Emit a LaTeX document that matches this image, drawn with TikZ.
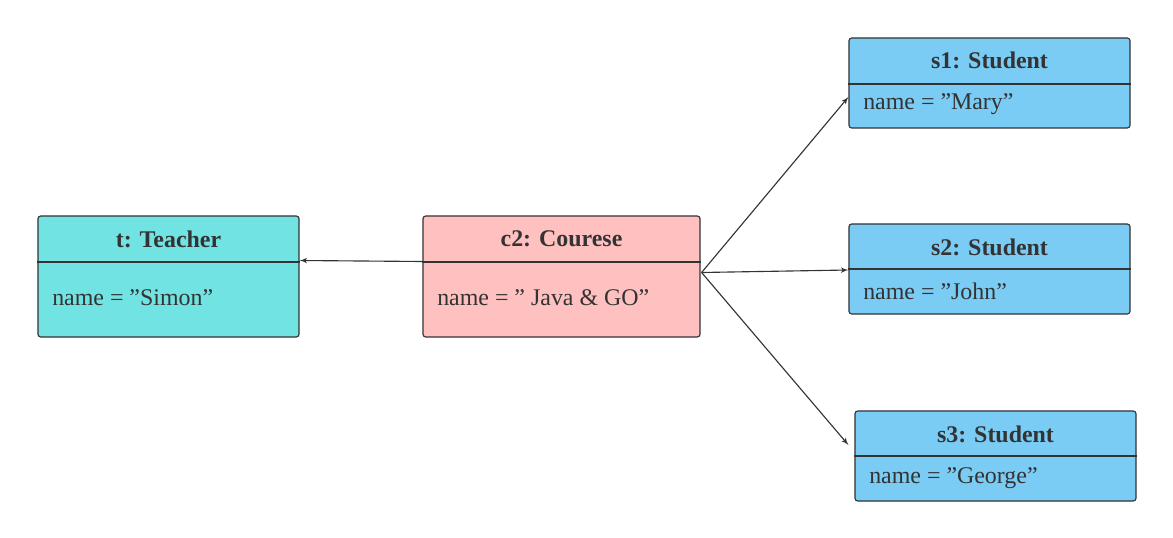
\documentclass[tikz,border=0pt]{standalone}
\usepackage{fontspec}
\setmainfont{Liberation Serif}
\usetikzlibrary{arrows,positioning,calc}
\definecolor{teachercol}{HTML}{72E3E3}
\definecolor{coursecol}{HTML}{FFC0C0}
\definecolor{studentcol}{HTML}{7ACCF5}
\definecolor{linecol}{HTML}{333333}
\begin{document}
\begin{tikzpicture}[x=0.025cm, y=-0.025cm,
            every node/.style={inner sep=0pt, text=linecol},
            objbox/.style={draw=linecol, thick, rounded corners=2pt},
            title/.style={font=\fontsize{17}{20}\selectfont\bfseries},
            field/.style={font=\fontsize{17}{20}\selectfont, anchor=west},
            divider/.style={thick, draw=linecol},
            link/.style={-latex', thick, draw=linecol}]
        \useasboundingbox (0,0) rectangle (1173,538);
        % objects
        \node[objbox, fill=teachercol, minimum width=6.525cm, minimum height=3.025cm] (t) at (168.5,276.5) {};
        \node[objbox, fill=coursecol, minimum width=6.925cm, minimum height=3.025cm] (c2) at (561.5,276.5) {};
        \node[objbox, fill=studentcol, minimum width=7.025cm, minimum height=2.25cm] (s1) at (989.5,83) {};
        \node[objbox, fill=studentcol, minimum width=7.025cm, minimum height=2.25cm] (s2) at (989.5,269) {};
        \node[objbox, fill=studentcol, minimum width=7.025cm, minimum height=2.25cm] (s3) at (995.5,456) {};
        % dividers
        \draw[divider] (t.north west |- 0,262) -- (t.north east |- 0,262);
        \draw[divider] (c2.north west |- 0,262) -- (c2.north east |- 0,262);
        \draw[divider] (s1.north west |- 0,84) -- (s1.north east |- 0,84);
        \draw[divider] (s2.north west |- 0,269) -- (s2.north east |- 0,269);
        \draw[divider] (s3.north west |- 0,456) -- (s3.north east |- 0,456);
        % texts
        \node[title] at (168.5,239) {t: Teacher};
        \node[field] at (52,298) {name = "Simon"};
        \node[title] at (561.5,239) {c2: Courese};
        \node[field] at (437,298) {name = " Java \& GO"};
        \node[title] at (989.5,60) {s1: Student};
        \node[field] at (863,104) {name = "Mary"};
        \node[title] at (989.5,247) {s2: Student};
        \node[field] at (863,291) {name = "John"};
        \node[title] at (995.5,434) {s3: Student};
        \node[field] at (869,478) {name = "George"};
        % links
        \coordinate (c2out) at ($(c2.east)+(1,-4)$);
        \draw[link] ($(c2.west)+(0,-15)$) -- ($(t.east)+(0,-16)$);
        \draw[link] (c2out) -- ($(s1.west)+(0,14)$);
        \draw[link] (c2out) -- ($(s2.west)+(0,1)$);
        \draw[link] (c2out) -- ($(s3.west)+(-6,-11)$);
\end{tikzpicture}
\end{document}
